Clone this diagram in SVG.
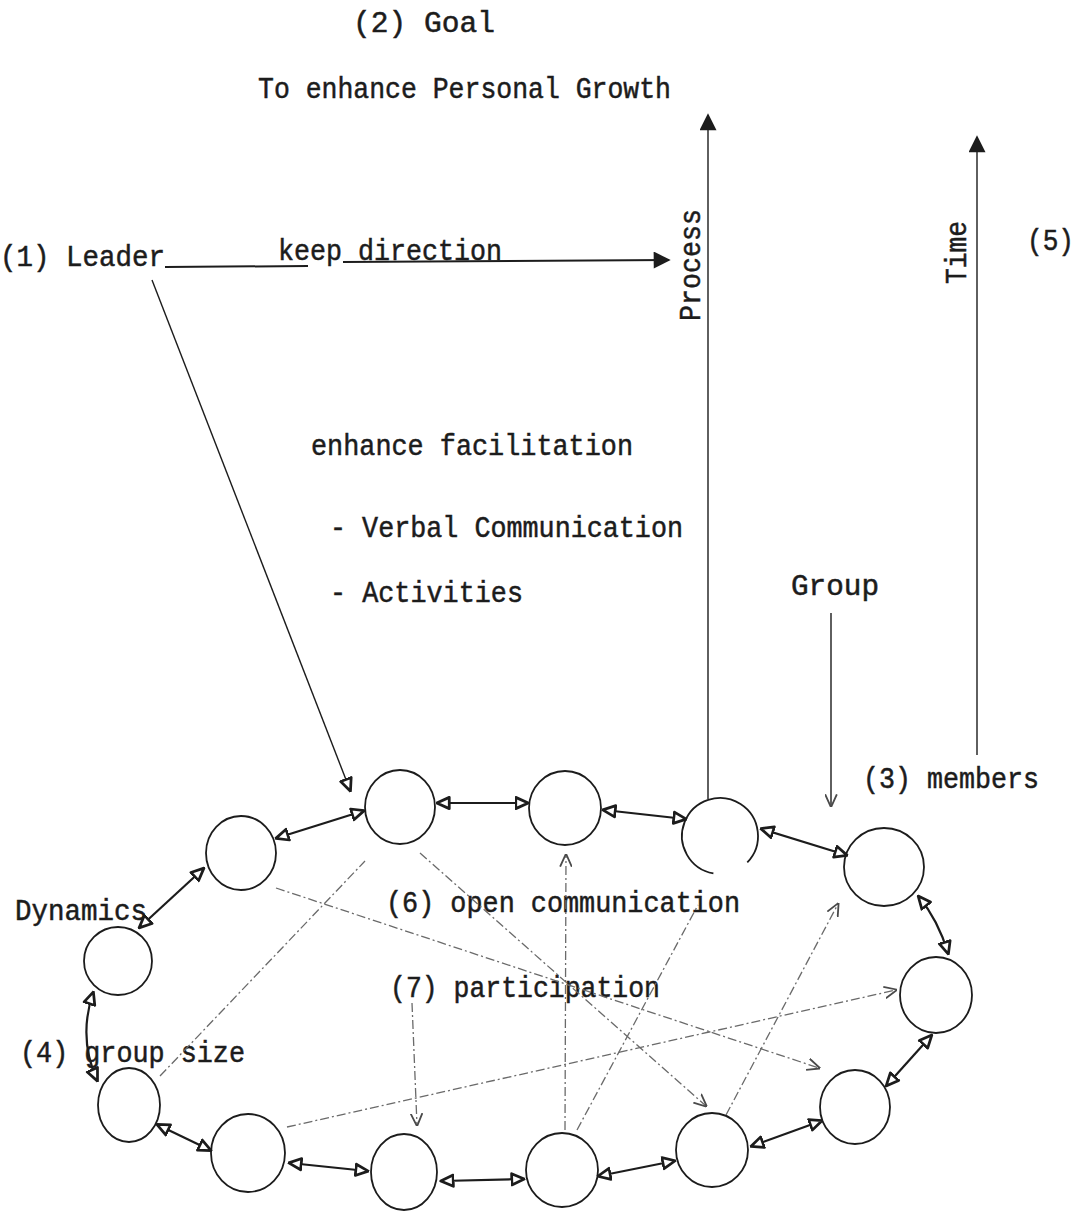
<svg xmlns="http://www.w3.org/2000/svg" width="1084" height="1212" viewBox="0 0 1084 1212">
<style>
.t{font-family:"Liberation Mono","Courier New",monospace;font-size:29px;fill:#1c1c1c;stroke:#1c1c1c;stroke-width:0.5}
.node{fill:none;stroke:#1c1c1c;stroke-width:1.8}
.solid{fill:none;stroke:#1c1c1c;stroke-width:2}
.thin{fill:none;stroke:#1c1c1c;stroke-width:1.4}
.ring{fill:none;stroke:#1c1c1c;stroke-width:2.2;marker-start:url(#tri);marker-end:url(#tri)}
.dash{fill:none;stroke:#6a6a6a;stroke-width:1.3;stroke-dasharray:9 3 2 3}
</style>
<defs>
<marker id="tri" viewBox="-1 -1 12 12" refX="9" refY="5" markerWidth="15" markerHeight="15" markerUnits="userSpaceOnUse" orient="auto-start-reverse"><path d="M0,0.5 L10,5 L0,9.5 z" fill="#ffffff" stroke="#1c1c1c" stroke-width="2.2" stroke-linejoin="round"/></marker>
<marker id="big" viewBox="0 0 10 10" refX="9" refY="5" markerWidth="18" markerHeight="17" markerUnits="userSpaceOnUse" orient="auto"><path d="M0,0 L10,5 L0,10 z" fill="#1c1c1c"/></marker>
<marker id="chev" viewBox="0 0 10 10" refX="9" refY="5" markerWidth="13" markerHeight="13" markerUnits="userSpaceOnUse" orient="auto"><path d="M0,0.5 L10,5 L0,9.5" fill="none" stroke="#4a4a4a" stroke-width="1.4"/></marker>
</defs>
<rect width="1084" height="1212" fill="#ffffff"/>

<g id="labels">
<text class="t" x="353" y="32" textLength="142" lengthAdjust="spacingAndGlyphs">(2)  Goal</text>
<text class="t" x="258" y="98" textLength="413" lengthAdjust="spacingAndGlyphs">To enhance Personal Growth</text>
<text class="t" x="0" y="266" textLength="165" lengthAdjust="spacingAndGlyphs">(1) Leader</text>
<text class="t" x="278" y="260" textLength="224" lengthAdjust="spacingAndGlyphs">keep direction</text>
<text class="t" transform="translate(700,321) rotate(-90)" x="0" y="0" textLength="112" lengthAdjust="spacingAndGlyphs">Process</text>
<text class="t" transform="translate(966,284) rotate(-90)" x="0" y="0" textLength="63" lengthAdjust="spacingAndGlyphs">Time</text>
<text class="t" x="1027" y="250" textLength="47" lengthAdjust="spacingAndGlyphs">(5)</text>
<text class="t" x="311" y="455" textLength="322" lengthAdjust="spacingAndGlyphs">enhance facilitation</text>
<text class="t" x="330" y="537" textLength="353" lengthAdjust="spacingAndGlyphs">- Verbal Communication</text>
<text class="t" x="330" y="602" textLength="193" lengthAdjust="spacingAndGlyphs">- Activities</text>
<text class="t" x="791" y="595" textLength="88" lengthAdjust="spacingAndGlyphs">Group</text>
<text class="t" x="863" y="788" textLength="176" lengthAdjust="spacingAndGlyphs">(3) members</text>
<text class="t" x="15" y="920" textLength="132" lengthAdjust="spacingAndGlyphs">Dynamics</text>
<text class="t" x="386" y="912" textLength="354" lengthAdjust="spacingAndGlyphs">(6) open communication</text>
<text class="t" x="390" y="997" textLength="270" lengthAdjust="spacingAndGlyphs">(7) participation</text>
<text class="t" x="20" y="1062" textLength="225" lengthAdjust="spacingAndGlyphs">(4) group size</text>
</g>

<g id="nodes">
<g id="node-a"><ellipse class="node" cx="400" cy="807" rx="35" ry="37"/></g>
<g id="node-b"><ellipse class="node" cx="565" cy="808" rx="36" ry="37"/></g>
<g id="node-c"><path class="node" d="M747.3,862.4 A38,38 0 1 0 713.4,873.4"/></g>
<g id="node-d"><ellipse class="node" cx="884" cy="867" rx="40" ry="39"/></g>
<g id="node-e"><ellipse class="node" cx="936" cy="995" rx="36" ry="38"/></g>
<g id="node-f"><ellipse class="node" cx="855" cy="1107" rx="35" ry="37"/></g>
<g id="node-g"><ellipse class="node" cx="712" cy="1150" rx="36" ry="37"/></g>
<g id="node-h"><ellipse class="node" cx="562" cy="1170" rx="36" ry="37"/></g>
<g id="node-i"><ellipse class="node" cx="404" cy="1172" rx="33" ry="38"/></g>
<g id="node-j"><ellipse class="node" cx="248" cy="1153" rx="37" ry="39"/></g>
<g id="node-k"><ellipse class="node" cx="129" cy="1105" rx="31" ry="37"/></g>
<g id="node-l"><ellipse class="node" cx="118" cy="961" rx="34" ry="34"/></g>
<g id="node-m"><ellipse class="node" cx="241" cy="853" rx="35" ry="37"/></g>
</g>

<g id="connectors">
<line class="solid" x1="165" y1="267" x2="308" y2="266"/>
<line class="solid" x1="343" y1="262" x2="669" y2="260" marker-end="url(#big)"/>
<line class="thin" x1="708" y1="799" x2="708" y2="115" marker-end="url(#big)"/>
<line class="thin" x1="977" y1="755" x2="977" y2="137" marker-end="url(#big)"/>
<line class="thin" x1="831" y1="613" x2="831" y2="806" marker-end="url(#chev)"/>
<line class="thin" x1="152" y1="280" x2="350" y2="790" marker-end="url(#tri)"/>

<line class="ring" x1="438" y1="803" x2="527" y2="803"/>
<line class="ring" x1="277" y1="838" x2="363" y2="811"/>
<line class="ring" x1="140" y1="927" x2="203" y2="869"/>
<path class="ring" d="M93,993 Q78,1038 97,1080"/>
<line class="ring" x1="158" y1="1125" x2="210" y2="1150"/>
<line class="ring" x1="290" y1="1163" x2="367" y2="1171"/>
<line class="ring" x1="442" y1="1181" x2="523" y2="1179"/>
<line class="ring" x1="599" y1="1176" x2="674" y2="1161"/>
<line class="ring" x1="752" y1="1146" x2="821" y2="1121"/>
<line class="ring" x1="887" y1="1085" x2="931" y2="1036"/>
<path class="ring" d="M919,897 Q938,920 948,953"/>
<line class="ring" x1="762" y1="829" x2="846" y2="855"/>
<line class="ring" x1="604" y1="810" x2="685" y2="819"/>

<line class="dash" x1="420" y1="853" x2="706" y2="1106" marker-end="url(#chev)"/>
<line class="dash" x1="276" y1="888" x2="819" y2="1068" marker-end="url(#chev)"/>
<line class="dash" x1="287" y1="1127" x2="896" y2="990" marker-end="url(#chev)"/>
<line class="dash" x1="160" y1="1076" x2="365" y2="861"/>
<line class="dash" x1="565" y1="1130" x2="566" y2="855" marker-end="url(#chev)"/>
<line class="dash" x1="577" y1="1130" x2="698" y2="905"/>
<line class="dash" x1="726" y1="1115" x2="838" y2="904" marker-end="url(#chev)"/>
<line class="dash" x1="412" y1="1003" x2="417" y2="1125" marker-end="url(#chev)"/>
</g>
</svg>
